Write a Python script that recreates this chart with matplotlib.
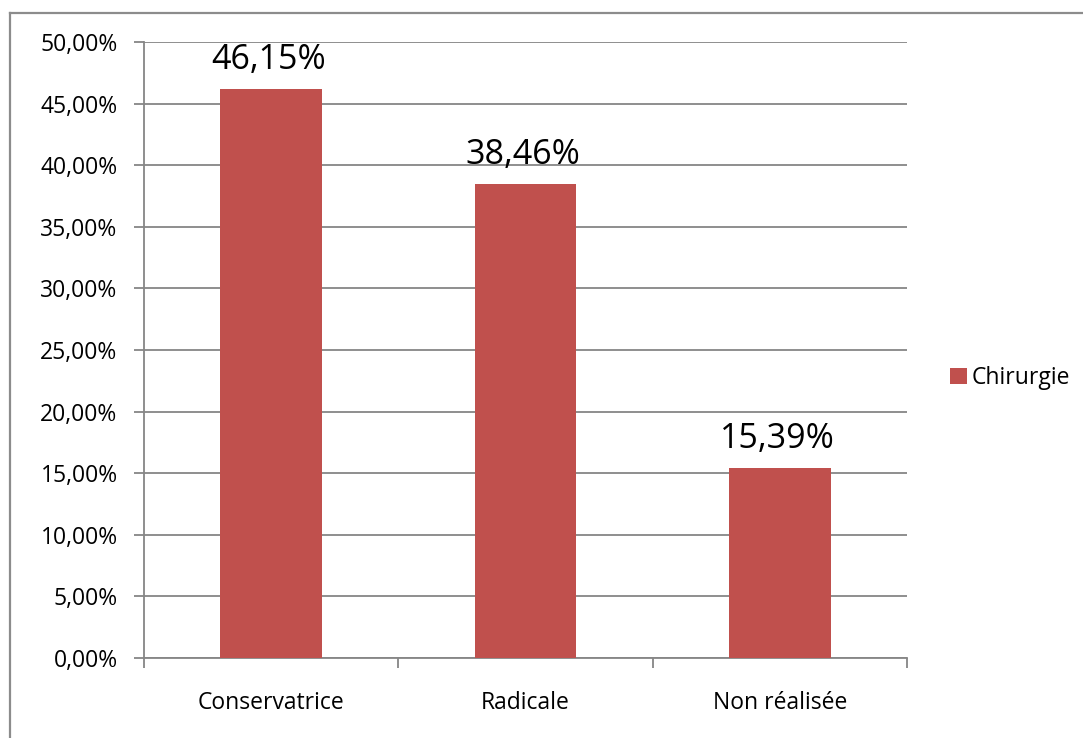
import matplotlib
matplotlib.use("Agg")
import matplotlib.pyplot as plt
from matplotlib.lines import Line2D
from matplotlib.patches import Patch
from matplotlib.ticker import FuncFormatter, MultipleLocator, FixedLocator

categories = ["Conservatrice", "Radicale", "Non réalisée"]
values = [46.15, 38.46, 15.39]
series_name = "Chirurgie"

BAR = "#C0504D"
GRID = "#868686"

plt.rcParams["font.family"] = ["Open Sans", "DejaVu Sans"]

W, H = 1083, 738
fig = plt.figure(figsize=(W / 100, H / 100), dpi=100)
fig.patch.set_facecolor("white")

ax = fig.add_axes([144 / W, (H - 658) / H, (907 - 144) / W, (658 - 42) / H])

x = list(range(len(categories)))
ax.bar(x, values, width=0.40, color=BAR, zorder=3, label=series_name)

def pct(v):
    return f"{v:.2f}".replace(".", ",") + "%"

for xi, v in zip(x, values):
    ax.annotate(pct(v), (xi, v), xytext=(-2, 14.5), textcoords="offset points",
                ha="center", va="baseline", fontsize=24.5, color="black", zorder=4)

ax.set_xlim(-0.5, len(categories) - 0.5)
ax.set_ylim(0, 50)
ax.yaxis.set_major_locator(MultipleLocator(5))
ax.yaxis.set_major_formatter(FuncFormatter(lambda v, p: f"{v:.2f}".replace(".", ",") + "%"))
ax.grid(axis="y", color=GRID, linewidth=1.3, zorder=0)
ax.set_axisbelow(True)

ax.set_xticks(x)
ax.set_xticklabels(categories)
ax.xaxis.set_minor_locator(FixedLocator([i - 0.5 for i in range(len(categories) + 1)]))
ax.tick_params(axis="x", which="major", length=0, pad=24, labelsize=16.5)
ax.tick_params(axis="x", which="minor", length=7, width=1.3, color=GRID, direction="out")
ax.tick_params(axis="y", length=7, width=1.3, color=GRID, direction="out", pad=12, labelsize=16.5)

for side in ("top", "right"):
    ax.spines[side].set_visible(False)
for side in ("left", "bottom"):
    ax.spines[side].set_color(GRID)
    ax.spines[side].set_linewidth(1.3)

handles = [Patch(facecolor=BAR, label=series_name)]
fig.legend(handles=handles, loc="center left", bbox_to_anchor=(941 / W, 1 - 378 / H),
           frameon=False, fontsize=16.5, handlelength=0.75, handleheight=0.75,
           handletextpad=0.2, borderaxespad=0)

# outer chart frame (top and left edges visible)
fig.add_artist(Line2D([10 / W, 1], [1 - 13 / H, 1 - 13 / H], color="#8c8c8c", linewidth=1.6,
                      transform=fig.transFigure))
fig.add_artist(Line2D([10 / W, 10 / W], [0, 1 - 13 / H], color="#8c8c8c", linewidth=1.6,
                      transform=fig.transFigure))

fig.savefig("out.png", dpi=100)
